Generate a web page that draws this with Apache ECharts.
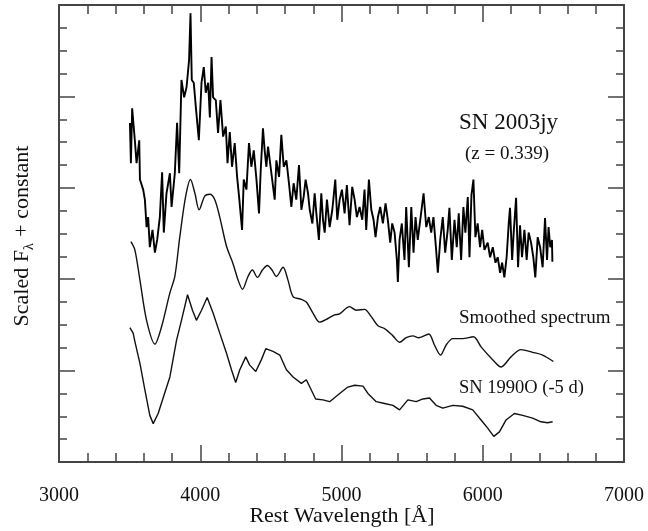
<!DOCTYPE html>
<html>
<head>
<meta charset="utf-8">
<script src="https://cdn.jsdelivr.net/npm/echarts@6/dist/echarts.min.js"></script>
<style>
html,body{margin:0;padding:0;background:#fff;}
#chart{width:648px;height:531px;}
</style>
</head>
<body>
<div id="chart"></div>
<script>
// X tick labels
var xTicks = [3000, 4000, 5000, 6000, 7000];

// SN 2003jy observed (noisy) spectrum
var noisyWave = [3502,3509,3518,3537,3549,3568,3573,3596,3608,3620,3631,3643,3662,3679,3695,3714,3730,3742,3761,3785,
3797,3820,3836,3851,3867,3886,3903,3921,3931,3940,3954,3969,3990,4009,4025,4039,4056,4068,4080,4091,
4110,4126,4143,4162,4181,4193,4209,4225,4244,4261,4275,4296,4308,4327,4345,4362,4379,4398,4416,4428,
4444,4456,4468,4480,4492,4527,4539,4558,4574,4591,4610,4628,4645,4661,4680,4699,4716,4732,4746,4763,
4775,4794,4810,4822,4840,4857,4869,4881,4897,4916,4935,4956,4970,4987,5003,5022,5038,5057,5076,5093,
5109,5128,5147,5163,5175,5194,5211,5227,5241,5258,5274,5293,5312,5328,5345,5359,5376,5392,5399,5411,
5427,5446,5458,5477,5494,5510,5524,5540,5552,5581,5600,5618,5635,5651,5670,5682,5699,5717,5734,5752,
5764,5781,5800,5816,5830,5847,5863,5877,5894,5906,5920,5934,5948,5964,5981,5996,6012,6035,6052,6071,
6090,6106,6123,6137,6153,6169,6184,6193,6208,6219,6236,6250,6264,6278,6295,6311,6325,6342,6358,6372,
6389,6406,6424,6441,6455,6466,6478,6490,6493];
var noisyFlux = [3.71,3.27,3.87,3.52,3.27,3.52,3.09,2.98,2.87,2.57,2.68,2.35,2.54,2.29,2.43,2.68,3.17,2.51,2.94,3.16,
2.79,3.16,3.71,3.16,4.18,3.99,4.10,4.40,4.91,4.18,4.15,3.88,3.52,4.15,4.32,4.04,4.15,3.77,4.43,3.99,
3.96,3.60,3.96,3.56,3.67,3.27,3.61,3.23,3.49,3.12,2.90,2.54,3.09,2.98,3.49,3.23,3.41,3.09,2.72,3.19,
3.65,3.41,3.23,3.45,3.45,2.87,3.30,3.12,3.58,3.23,3.30,3.05,2.79,3.05,2.87,3.25,2.76,2.90,3.09,2.94,
2.76,2.61,2.94,2.72,2.43,2.94,2.65,2.51,2.87,2.57,2.76,3.09,2.65,2.87,2.98,2.72,3.03,2.59,3.01,2.87,
2.68,2.79,2.65,2.98,2.54,3.09,2.76,2.65,2.46,2.68,2.79,2.61,2.83,2.65,2.40,2.61,2.51,2.21,1.97,2.43,
2.61,2.21,2.79,2.13,2.79,2.29,2.68,2.43,2.43,2.94,2.57,2.68,2.51,2.68,2.32,2.07,2.43,2.68,2.29,2.54,
2.78,2.21,2.65,2.35,2.72,2.21,2.79,2.51,2.90,2.24,2.92,3.09,2.46,2.61,2.35,2.54,2.32,2.40,2.24,2.35,
2.18,2.24,2.07,2.18,2.02,2.24,2.61,2.78,2.21,2.51,2.89,2.13,2.59,2.24,2.54,2.21,2.51,2.40,2.24,2.02,
2.46,2.35,2.13,2.67,2.21,2.57,2.35,2.43,2.19];

// Smoothed spectrum
var smoothWave = [3509,3537,3573,3620,3679,3726,3785,3820,3855,3896,3931,3962,3992,4032,4068,4103,4138,4186,4232,4268,
4299,4338,4369,4405,4440,4475,4508,4539,4586,4621,4657,4716,4751,4798,4845,4904,4951,4987,5057,5105,
5163,5211,5258,5305,5364,5411,5458,5505,5548,5618,5658,5701,5741,5788,5858,5934,5988,6070,6130,6200,
6271,6353,6424,6500];
var smoothFlux = [2.41,2.32,1.99,1.55,1.29,1.48,1.85,2.03,2.46,2.90,3.09,2.94,2.76,2.91,2.93,2.87,2.68,2.36,2.17,1.99,
1.89,2.03,2.10,2.02,2.10,2.15,2.10,2.03,2.13,1.99,1.81,1.78,1.75,1.63,1.53,1.57,1.61,1.62,1.70,1.66,
1.67,1.59,1.49,1.46,1.38,1.31,1.36,1.38,1.36,1.40,1.28,1.17,1.28,1.35,1.35,1.37,1.26,1.12,1.04,1.15,
1.23,1.20,1.17,1.10];

// SN 1990O (-5 d) template
var sn1990oWave = [3502,3525,3537,3573,3608,3643,3667,3702,3737,3785,3832,3867,3910,3945,3973,4009,4049,4091,4138,4186,
4221,4251,4280,4322,4350,4393,4433,4464,4515,4563,4610,4657,4716,4751,4817,4869,4916,4987,5045,5093,
5152,5187,5246,5305,5364,5411,5470,5529,5576,5623,5670,5717,5788,5858,5929,5988,6035,6078,6118,6165,
6224,6283,6353,6412,6459,6495];
var sn1990oFlux = [1.47,1.41,1.32,1.08,0.79,0.51,0.42,0.53,0.70,0.93,1.33,1.55,1.83,1.66,1.55,1.66,1.80,1.63,1.41,1.19,
1.01,0.87,1.01,1.15,1.06,0.99,1.12,1.24,1.21,1.17,1.01,0.93,0.86,0.90,0.69,0.68,0.66,0.75,0.82,0.84,
0.83,0.75,0.66,0.64,0.62,0.57,0.68,0.66,0.69,0.70,0.62,0.59,0.62,0.61,0.57,0.46,0.37,0.28,0.33,0.46,
0.53,0.51,0.48,0.44,0.43,0.44];

function pairs(xs, ys) { return xs.map(function (x, i) { return [x, ys[i]]; }); }

var serif = 'Liberation Serif';
var axisColor = '#444';

function xAx(pos, showLabel) {
  return {
    type: 'value', position: pos, min: xTicks[0], max: xTicks[xTicks.length - 1], interval: 1000,
    axisLine: { show: true, onZero: false, lineStyle: { color: axisColor, width: 2 } },
    axisTick: { show: true, inside: true, length: 17, lineStyle: { color: axisColor, width: 1.5 } },
    minorTick: { show: true, splitNumber: 5, length: 9, lineStyle: { color: axisColor, width: 1.5 } },
    splitLine: { show: false }, minorSplitLine: { show: false },
    axisLabel: { show: showLabel, margin: 24, color: '#111', fontFamily: serif, fontSize: 20,
      formatter: function (v) { return String(v); } }
  };
}
function yAx(pos) {
  return {
    type: 'value', position: pos, min: 0, max: 5, interval: 1,
    axisLine: { show: true, onZero: false, lineStyle: { color: axisColor, width: 2 } },
    axisTick: { show: true, inside: true, length: 16, lineStyle: { color: axisColor, width: 1.5 } },
    minorTick: { show: true, splitNumber: 4, length: 8, lineStyle: { color: axisColor, width: 1.5 } },
    splitLine: { show: false }, minorSplitLine: { show: false },
    axisLabel: { show: false }
  };
}

var chart = echarts.init(document.getElementById('chart'), null, { renderer: 'canvas' });
chart.setOption({
  animation: false,
  backgroundColor: '#fff',
  grid: { left: 59, right: 24, top: 5, bottom: 69, containLabel: false, outerBoundsMode: 'none' },
  xAxis: [xAx('bottom', true), xAx('top', false)],
  yAxis: [yAx('left'), yAx('right')],
  series: [
    { type: 'line', xAxisIndex: 0, yAxisIndex: 0, data: pairs(noisyWave, noisyFlux), showSymbol: false,
      lineStyle: { color: '#000', width: 1.9 } },
    { type: 'line', xAxisIndex: 0, yAxisIndex: 0, data: pairs(smoothWave, smoothFlux), showSymbol: false, smooth: 0.3,
      lineStyle: { color: '#111', width: 1.4 } },
    { type: 'line', xAxisIndex: 0, yAxisIndex: 0, data: pairs(sn1990oWave, sn1990oFlux), showSymbol: false,
      lineStyle: { color: '#111', width: 1.4 } }
  ],
  graphic: [
    { type: 'text', x: 342, y: 516,
      style: { text: 'Rest Wavelength [Å]', fill: '#111', font: '22px "Liberation Serif"', align: 'center', verticalAlign: 'middle' } },
    { type: 'text', left: 459, top: 111, style: { text: 'SN 2003jy', fill: '#111', font: '23px "Liberation Serif"' } },
    { type: 'text', left: 465, top: 145, style: { text: '(z = 0.339)', fill: '#111', font: '19px "Liberation Serif"' } },
    { type: 'text', left: 459, top: 309, style: { text: 'Smoothed spectrum', fill: '#111', font: '19px "Liberation Serif"' } },
    { type: 'text', left: 459, top: 379, style: { text: 'SN 1990O (-5 d)', fill: '#111', font: '18.5px "Liberation Serif"' } },
    { type: 'text', x: 22, y: 236, rotation: Math.PI / 2,
      style: {
        text: '{a|Scaled F}{s|λ}{a| + constant}', align: 'center', verticalAlign: 'middle',
        rich: {
          a: { fontFamily: serif, fontSize: 22, fill: '#111', lineHeight: 28, verticalAlign: 'middle' },
          s: { fontFamily: serif, fontSize: 14, fill: '#111', lineHeight: 28, verticalAlign: 'bottom', padding: [11, 1, 0, 0] }
        }
      } }
  ]
});
</script>
</body>
</html>
